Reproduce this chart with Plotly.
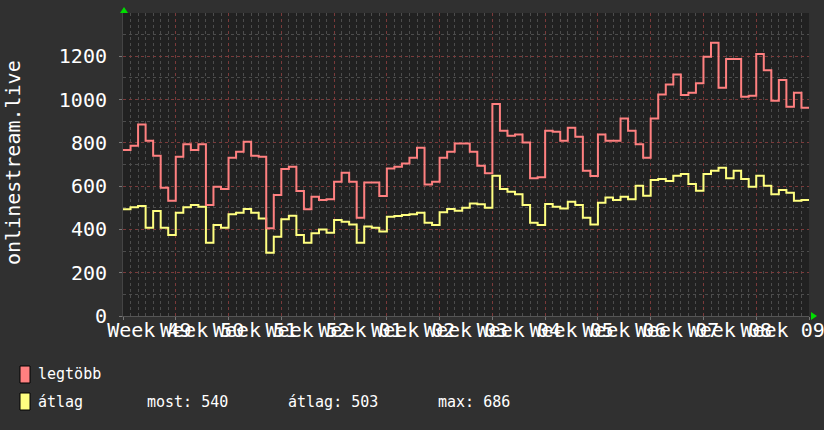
import plotly.graph_objects as go
import pandas as pd

# ---------------- data ----------------
start_day = "2024-12-02"  # Monday of ISO week 49
legtobb = [767, 787, 885, 810, 740, 593, 533, 736, 793, 767, 793, 513, 597,
           587, 731, 759, 805, 740, 736, 405, 559, 679, 690, 577, 493, 551,
           536, 539, 620, 662, 620, 454, 617, 617, 554, 682, 690, 705, 731,
           777, 608, 620, 731, 759, 797, 797, 759, 694, 659, 979, 856, 833,
           839, 802, 636, 641, 856, 851, 810, 870, 828, 671, 647, 839, 810,
           810, 912, 856, 794, 731, 912, 1024, 1070, 1116, 1021, 1032, 1075, 1198,
           1262, 1055, 1187, 1187, 1013, 1018, 1210, 1136, 995, 1090, 967, 1032, 962]
atlag = [493, 502, 508, 408, 485, 408, 374, 477, 502, 513, 505, 339, 420,
         408, 470, 477, 494, 477, 451, 292, 366, 447, 463, 374, 339, 382,
         400, 385, 443, 436, 423, 339, 413, 408, 390, 459, 462, 467, 470,
         477, 431, 420, 479, 494, 486, 500, 520, 516, 500, 648, 587, 574,
         563, 513, 431, 420, 517, 505, 497, 528, 513, 454, 423, 523, 547,
         536, 551, 540, 602, 556, 628, 633, 624, 648, 656, 610, 579, 656,
         671, 685, 636, 671, 633, 597, 648, 602, 563, 582, 570, 533, 536]
week_labels = ["Week 49", "Week 50", "Week 51", "Week 52", "Week 01", "Week 02",
               "Week 03", "Week 04", "Week 05", "Week 06", "Week 07", "Week 08",
               "Week 09"]
y_tick_vals = [0, 200, 400, 600, 800, 1000, 1200]
series_names = ["legtöbb", "átlag"]
y_title = "onlinestream.live"
stat_texts = ["most: 540", "átlag: 503", "max: 686"]

# ---------------- derived ----------------
edges = pd.date_range(start_day, periods=len(legtobb) + 1, freq="D")
week_starts = pd.date_range(start_day, periods=len(week_labels), freq="7D")
week_mids = week_starts + pd.Timedelta(hours=84)
red_y = legtobb + [legtobb[-1]]
yel_y = atlag + [atlag[-1]]

W, H = 824, 430
ML, MR, MT, MB = 123, 15, 13, 114
PW, PH = W - ML - MR, H - MT - MB


def px(x):
    return (x - ML) / PW


def py(y):
    return 1 - (y - MT) / PH


RED = "#ff8080"
YEL = "#ffff80"
MONO = "DejaVu Sans Mono"
GRID_MAJ = "#7a3a3a"
GRID_MIN = "#4c4c4c"

fig = go.Figure()
fig.add_trace(go.Scatter(x=edges, y=red_y, mode="lines", line_shape="hv",
                         line=dict(color=RED, width=2), name=series_names[0],
                         xaxis="x2"))
fig.add_trace(go.Scatter(x=edges, y=yel_y, mode="lines", line_shape="hv",
                         line=dict(color=YEL, width=2), name=series_names[1]))

xr = [edges[0], edges[-1]]
fig.update_layout(
    width=W, height=H,
    margin=dict(l=ML, r=MR, t=MT, b=MB, autoexpand=False),
    paper_bgcolor="#303030", plot_bgcolor="#212121",
    showlegend=False,
    font=dict(family=MONO, color="white"),
    xaxis=dict(type="date", range=xr, showgrid=True, gridcolor=GRID_MAJ,
               griddash="dot", gridwidth=1, tick0=start_day,
               dtick=7 * 86400000, showticklabels=False, zeroline=False,
               ticks="outside", ticklen=3, tickcolor="#777777",
               showline=True, linecolor="#555555",
               minor=dict(dtick=86400000, showgrid=True, gridcolor=GRID_MIN,
                          griddash="dot", ticks=""),
               layer="below traces"),
    xaxis2=dict(type="date", overlaying="x", matches="x", side="bottom",
                tickmode="array", tickvals=week_mids, ticktext=week_labels,
                showgrid=False, tickangle=0, ticks="", zeroline=False,
                ticklabeloverflow="allow",
                tickfont=dict(family=MONO, size=20, color="white")),
    yaxis=dict(range=[0, 1400], tickmode="array", tickvals=y_tick_vals,
               showgrid=True, gridcolor=GRID_MAJ, griddash="dot",
               zeroline=False, ticks="outside", ticklen=3,
               tickcolor="#777777", ticklabelstandoff=8,
               tickfont=dict(family=MONO, size=20, color="white"),
               showline=True, linecolor="#444444",
               minor=dict(dtick=100, showgrid=True, gridcolor=GRID_MIN,
                          griddash="dot", ticks="")),
)

LEG_SIZE = 15
annotations = [
    dict(text=y_title, x=px(13), y=py(163), xref="paper", yref="paper",
         showarrow=False, textangle=-90, xanchor="center", yanchor="middle",
         font=dict(family=MONO, size=20, color="white")),
    dict(text=series_names[0], x=px(36), y=py(374), xref="paper", yref="paper",
         showarrow=False, xanchor="left", yanchor="middle",
         font=dict(family=MONO, size=LEG_SIZE, color="white")),
    dict(text=series_names[1], x=px(36), y=py(402), xref="paper", yref="paper",
         showarrow=False, xanchor="left", yanchor="middle",
         font=dict(family=MONO, size=LEG_SIZE, color="white")),
]
for txt, xl in zip(stat_texts, [145, 286, 436]):
    annotations.append(dict(text=txt, x=px(xl), y=py(402), xref="paper",
                            yref="paper", showarrow=False, xanchor="left",
                            yanchor="middle",
                            font=dict(family=MONO, size=LEG_SIZE, color="white")))
fig.update_layout(annotations=annotations)

shapes = [
    dict(type="rect", xref="paper", yref="paper", x0=px(20), x1=px(30),
         y0=py(383), y1=py(366), fillcolor=RED, line=dict(color="black", width=1)),
    dict(type="rect", xref="paper", yref="paper", x0=px(20), x1=px(30),
         y0=py(410), y1=py(393), fillcolor=YEL, line=dict(color="black", width=1)),
    dict(type="path", xref="paper", yref="paper",
         path=f"M {px(120)} {py(13)} L {px(128)} {py(13)} L {px(124)} {py(7)} Z",
         fillcolor="#00dd00", line=dict(width=0)),
    dict(type="path", xref="paper", yref="paper",
         path=f"M {px(811)} {py(312)} L {px(811)} {py(320)} L {px(817)} {py(316)} Z",
         fillcolor="#00dd00", line=dict(width=0)),
]
fig.update_layout(shapes=shapes)

fig.write_html(
    "out.html",
    config={"displayModeBar": False},
    post_script="document.body.style.margin='0';"
                "document.body.style.overflow='hidden';",
)
